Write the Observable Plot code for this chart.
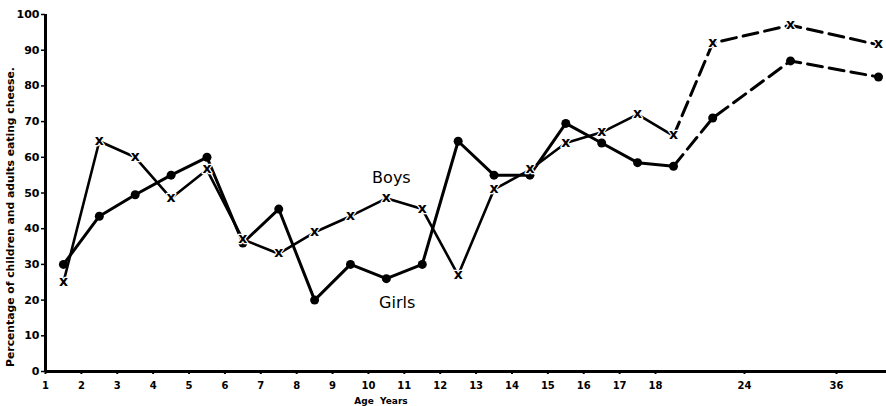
<!DOCTYPE html>
<html>
<head>
<meta charset="utf-8">
<script src="https://cdn.jsdelivr.net/npm/d3@7"></script>
<script src="https://cdn.jsdelivr.net/npm/@observablehq/plot@0.6"></script>
<style>
  html, body { margin: 0; padding: 0; background: #fff; }
  svg { display: block; }
</style>
</head>
<body>
<div id="chart"></div>
<script>
// Age groups (mid-point of each group, in years)
const ages = [1.5, 2.5, 3.5, 4.5, 5.5, 6.5, 7.5, 8.5, 9.5, 10.5, 11.5, 12.5, 13.5, 14.5, 15.5, 16.5, 17.5, 18.5, 21, 30, 42];
// Percentage eating cheese
const boys  = [25, 64.5, 60, 48.5, 56.5, 37, 33, 39, 43.5, 48.5, 45.5, 27, 51, 56.5, 64, 67, 72, 66, 92, 97, 91.5];
const girls = [30, 43.5, 49.5, 55, 60, 36, 45.5, 20, 30, 26, 30, 64.5, 55, 55, 69.5, 64, 58.5, 57.5, 71, 87, 82.5];
// Axis ticks
const xTicks = [1, 2, 3, 4, 5, 6, 7, 8, 9, 10, 11, 12, 13, 14, 15, 16, 17, 18, 24, 36];
const yTicks = [0, 10, 20, 30, 40, 50, 60, 70, 80, 90, 100];
const dashedFrom = 17; // index where the dashed (adult) part begins
const yLabel = "Percentage of children and adults eating cheese.";
const xLabel = "Age\u00a0\u00a0Years";

const rows = ages.map((a, i) => ({age: a, boys: boys[i], girls: girls[i], i}));
const solid = rows.filter(d => d.i <= dashedFrom);
const dashed = rows.filter(d => d.i >= dashedFrom);

const W = 886, H = 406;
const font = "DejaVu Sans";

const chart = Plot.plot({
  width: W,
  height: H,
  marginLeft: 45,
  marginRight: 0,
  marginTop: 14,
  marginBottom: 35,
  style: {fontFamily: font, background: "white", color: "black"},
  x: {
    type: "linear",
    domain: [1, 18, 19, 24, 36, 43],
    range: [45, 655, 691, 744, 836, 885]
  },
  y: {domain: [0, 100]},
  marks: [
    Plot.axisX(xTicks, {tickSize: 3, tickPadding: 7, fontSize: 10, fontWeight: "bold", strokeWidth: 2, tickFormat: d => String(d), label: null}),
    Plot.axisY(yTicks, {tickSize: 4, tickPadding: 2, fontSize: 11, fontWeight: "bold", strokeWidth: 1.5, label: null}),
    Plot.ruleY([0], {strokeWidth: 3}),
    Plot.ruleX([1], {strokeWidth: 3}),
    // Girls
    Plot.line(solid, {x: "age", y: "girls", strokeWidth: 3}),
    Plot.line(dashed, {x: "age", y: "girls", strokeWidth: 3, strokeDasharray: "15,7"}),
    // Boys
    Plot.line(solid, {x: "age", y: "boys", strokeWidth: 2.6}),
    Plot.line(dashed, {x: "age", y: "boys", strokeWidth: 3, strokeDasharray: "15,7"}),
    Plot.dot(rows, {x: "age", y: "girls", r: 4.5, fill: "black"}),
    Plot.text(rows, {x: "age", y: "boys", text: () => "x", fontSize: 14, fontWeight: "bold", fill: "black", stroke: "white", strokeWidth: 2.5, dy: -1}),
    // Series labels
    Plot.text(["Boys"], {x: 10.64, y: 54.2, text: d => d, fontSize: 16, fill: "black"}),
    Plot.text(["Girls"], {x: 10.8, y: 19.3, text: d => d, fontSize: 16, fill: "black"}),
    // Axis titles
    Plot.text([yLabel], {frameAnchor: "left", text: d => d, rotate: -90, textAnchor: "middle", dx: -35, dy: 24, fontSize: 10.8, fontWeight: "bold", fill: "black"}),
    Plot.text([xLabel], {frameAnchor: "bottom", text: d => d, dx: -85, dy: 30, fontSize: 9, fontWeight: "bold", fill: "black", textAnchor: "middle", lineAnchor: "middle"})
  ]
});
document.getElementById("chart").appendChild(chart);
</script>
</body>
</html>
